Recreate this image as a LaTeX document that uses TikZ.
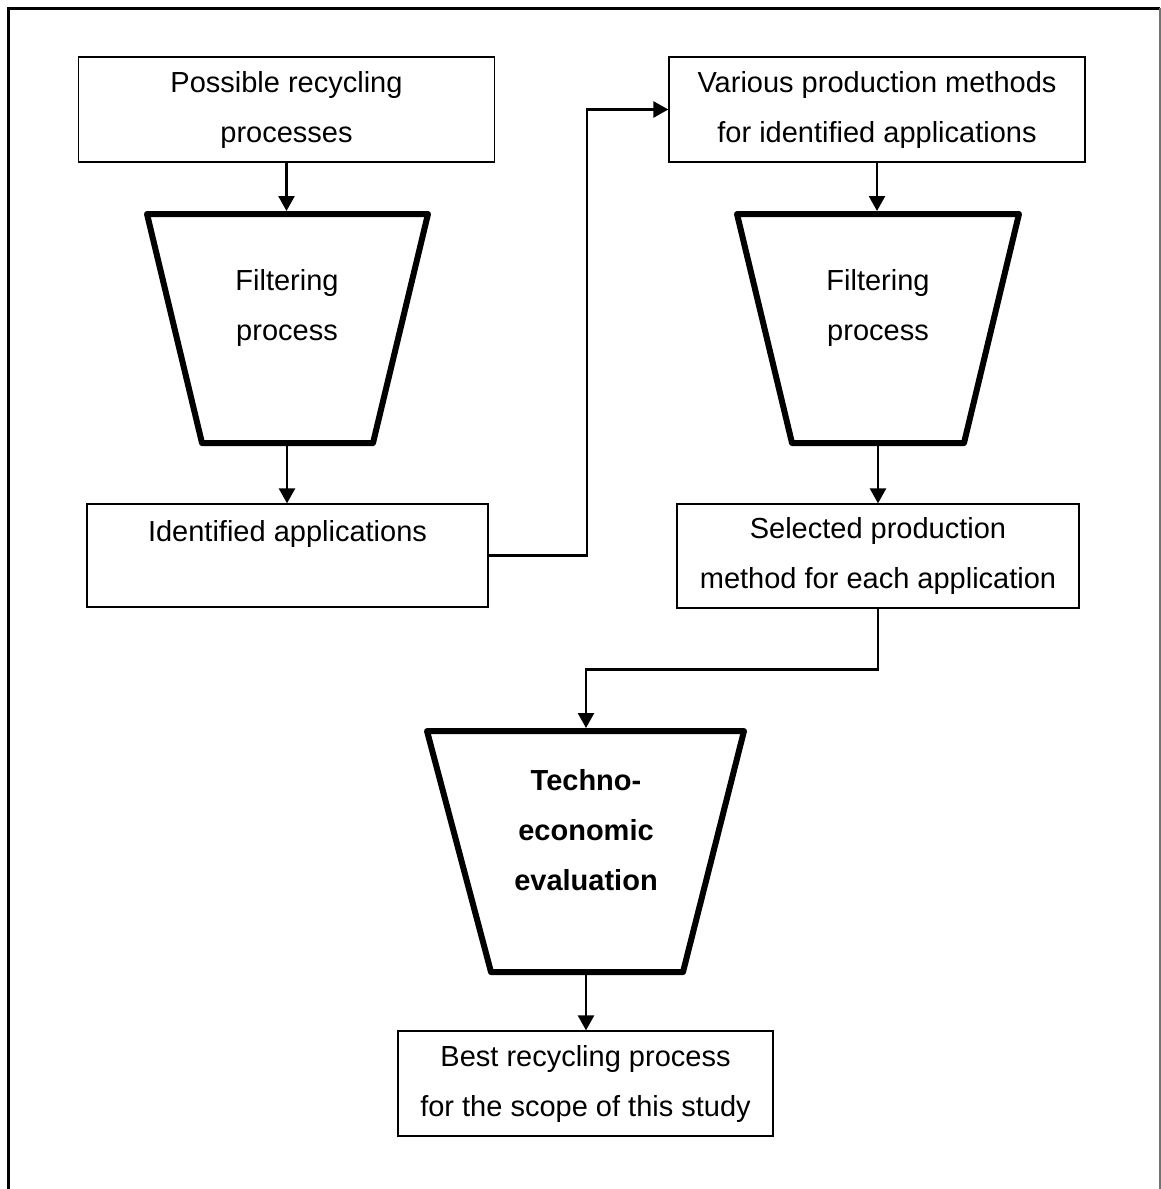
\documentclass[tikz,border=0pt]{standalone}
\usepackage{fontspec}
\setmainfont{Liberation Sans}
\usetikzlibrary{arrows.meta}

\tikzset{
  stagebox/.style={draw=black, line width=1.3pt, fill=white, inner sep=0pt,
    align=center, font=\fontsize{29}{50}\selectfont},
  funnel/.style={draw=black, line width=6pt, line join=round},
  funneltext/.style={align=center, inner sep=0pt, font=\fontsize{29}{50}\selectfont},
  conn/.style={draw=black, line width=2.5pt, -{Triangle[length=15pt,width=16pt]}},
  frame/.style={line width=3pt, black},
}

\begin{document}
\begin{tikzpicture}[x=1pt, y=-1pt]
\useasboundingbox (0,0) rectangle (1161,1189);

% outer frame (open at the bottom)
\draw[frame] (8,1195) -- (8,8) -- (1160,8);
\draw[line width=2pt, black!55] (1160,8) -- (1160,1195);

% rectangular stages
\node[stagebox, minimum width=416pt, minimum height=105pt] (b1) at (286.5,109.5)
  {Possible recycling\\processes};
\node[stagebox, minimum width=401pt, minimum height=103pt] (b2) at (287.5,555.5)
  {Identified applications\\\mbox{}};
\node[stagebox, minimum width=416pt, minimum height=105pt] (b3) at (877,109.5)
  {Various production methods\\for identified applications};
\node[stagebox, minimum width=402pt, minimum height=104pt] (b4) at (878,556)
  {Selected production\\method for each application};
\node[stagebox, minimum width=375pt, minimum height=105pt] (b5) at (585.5,1083.5)
  {Best recycling process\\for the scope of this study};

% funnel stages
\draw[funnel] (147,214) -- (428,214) -- (373,443) -- (202,443) -- cycle;
\coordinate (f1t) at (287,211);
\coordinate (f1b) at (287,446);
\node[funneltext] (f1) at (287,308) {Filtering\\process};

\draw[funnel] (737,214) -- (1019,214) -- (964,443) -- (792,443) -- cycle;
\coordinate (f2t) at (878,211);
\coordinate (f2b) at (878,446);
\node[funneltext] (f2) at (878,308) {Filtering\\process};

\draw[funnel] (427,731) -- (744,731) -- (683,972) -- (491,972) -- cycle;
\coordinate (f3t) at (586,728);
\coordinate (f3b) at (586,975);
\node[funneltext, font=\fontsize{29}{50}\selectfont\bfseries] (f3) at (586,830)
  {Techno-\\economic\\evaluation};

% connectors
\draw[conn] (b1.south) -- (b1.south |- f1t);
\draw[conn] (f1b) -- (f1b |- b2.north);
\draw[conn] (b2.east) -- ++(98.5,0) |- (b3.west);
\draw[conn] (b3.south) -- (b3.south |- f2t);
\draw[conn] (f2b) -- (f2b |- b4.north);
\draw[conn] (b4.south) -- ++(0,61) -| (f3t);
\draw[conn] (f3b) -- (f3b |- b5.north);
\end{tikzpicture}
\end{document}
